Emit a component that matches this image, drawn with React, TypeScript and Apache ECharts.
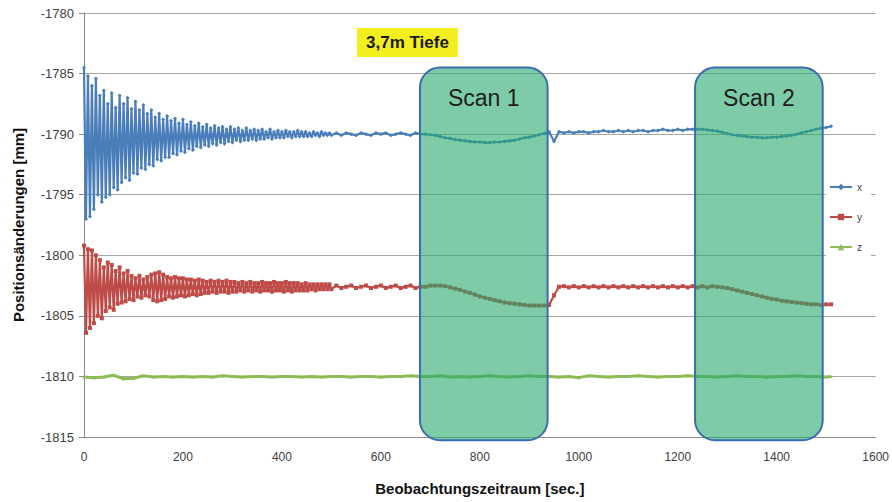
import React, { useEffect, useRef } from "react";
import * as echarts from "echarts";

// sample times (sec.)
const tA = [0,4,8,12,16,20,24,28,32,36,40,44,48,52,56,60,64,68,72,76,80,84,88,92,96,100,104,108,112,116,120,124,128,132,136,140,144,148,152,156,160,164,168,172,176,180,184,188,192,196,200,204,208,212,216,220,224,228,232,236,240,244,248,252,256,260,264,268,272,276,280,284,288,292,296,300,304,308,312,316,320,324,328,332,336,340,344,348,352,356,360,364,368,372,376,380,384,388,392,396,400,404,408,412,416,420,424,428,432,436,440,444,448,452,456,460,464,468,472,476,480,484,488,492,496,500];
const tB = [510,520,530,540,550,560,570,580,590,600,610,620,630,640,650,660,670,680,690,700,710,720,730,740,750,760,770,780,790,800,810,820,830,840,850,860,870,880,890,900,910,920,930,940,950,960,970,980,990,1000,1010,1020,1030,1040,1050,1060,1070,1080,1090,1100,1110,1120,1130,1140,1150,1160,1170,1180,1190,1200,1210,1220,1230,1240,1250,1260,1270,1280,1290,1300,1310,1320,1330,1340,1350,1360,1370,1380,1390,1400,1410,1420,1430,1440,1450,1460,1470,1480,1490,1500,1510];
const tZ = [0,20,40,60,80,100,120,140,160,180,200,220,240,260,280,300,320,340,360,380,400,420,440,460,480,500,520,540,560,580,600,620,640,660,680,700,720,740,760,780,800,820,840,860,880,900,920,940,960,980,1000,1020,1040,1060,1080,1100,1120,1140,1160,1180,1200,1220,1240,1260,1280,1300,1320,1340,1360,1380,1400,1420,1440,1460,1480,1500,1510];

// x series (mm)
const xEarly = [-1784.5,-1797.0,-1785.2,-1796.8,-1786.0,-1796.2,-1785.4,-1795.0,-1786.8,-1795.6,-1786.4,-1795.2,-1787.5,-1795.0,-1786.6,-1794.4,-1787.8,-1794.6,-1786.8,-1794.0,-1787.5,-1793.6,-1787.0,-1793.8,-1787.9,-1793.2,-1787.3,-1793.3,-1788.0,-1792.8,-1787.6,-1792.9,-1788.3,-1792.5,-1788.0,-1792.6,-1788.6,-1792.1,-1788.3,-1792.2,-1788.8,-1791.9,-1788.5,-1791.9,-1788.9,-1791.6,-1788.7,-1791.7,-1789.1,-1791.4,-1788.8,-1791.5,-1789.2,-1791.2,-1789.0,-1791.3,-1789.3,-1791.0,-1789.1,-1791.1,-1789.4,-1790.9,-1789.2,-1791.0,-1789.5,-1790.8,-1789.3,-1790.9,-1789.5,-1790.7,-1789.4,-1790.8,-1789.6,-1790.6,-1789.4,-1790.7,-1789.6,-1790.5,-1789.5,-1790.6,-1789.7,-1790.5,-1789.5,-1790.5,-1789.7,-1790.4,-1789.6,-1790.5,-1789.7,-1790.4,-1789.6,-1790.4,-1789.8,-1790.3,-1789.6,-1790.4,-1789.8,-1790.3,-1789.7,-1790.3,-1789.8,-1790.3,-1789.7,-1790.2,-1789.8,-1790.3,-1789.8,-1790.2,-1789.7,-1790.2,-1789.8,-1790.2,-1789.8,-1790.2,-1789.9,-1790.2,-1789.8,-1790.1,-1789.9,-1790.2,-1789.8,-1790.1,-1789.9,-1790.1,-1789.9,-1790.1];
const xLate = [-1789.9,-1790.1,-1789.9,-1790.0,-1790.1,-1789.9,-1790.0,-1790.1,-1789.9,-1790.0,-1789.9,-1790.1,-1790.0,-1789.9,-1790.0,-1790.1,-1789.9,-1790.0,-1790.0,-1790.05,-1790.1,-1790.2,-1790.3,-1790.35,-1790.45,-1790.5,-1790.55,-1790.6,-1790.65,-1790.65,-1790.7,-1790.7,-1790.65,-1790.65,-1790.6,-1790.55,-1790.5,-1790.4,-1790.3,-1790.25,-1790.15,-1790.05,-1789.95,-1789.8,-1790.6,-1789.8,-1789.9,-1789.8,-1789.9,-1789.8,-1789.8,-1789.9,-1789.8,-1789.8,-1789.7,-1789.8,-1789.8,-1789.7,-1789.8,-1789.7,-1789.8,-1789.7,-1789.7,-1789.8,-1789.7,-1789.7,-1789.6,-1789.7,-1789.7,-1789.6,-1789.7,-1789.6,-1789.6,-1789.6,-1789.6,-1789.65,-1789.7,-1789.75,-1789.85,-1789.95,-1790.05,-1790.1,-1790.15,-1790.2,-1790.25,-1790.25,-1790.3,-1790.3,-1790.25,-1790.25,-1790.2,-1790.15,-1790.1,-1790.0,-1789.9,-1789.8,-1789.7,-1789.6,-1789.5,-1789.45,-1789.35];

// y series (mm)
const yEarly = [-1799.2,-1806.4,-1799.5,-1806.0,-1799.6,-1805.6,-1800.0,-1805.0,-1800.4,-1805.2,-1801.0,-1804.6,-1800.6,-1804.3,-1800.8,-1804.5,-1801.3,-1804.0,-1801.0,-1803.9,-1801.5,-1803.8,-1801.3,-1803.6,-1801.7,-1803.7,-1801.9,-1803.4,-1801.7,-1803.5,-1802.0,-1803.3,-1801.8,-1803.4,-1801.6,-1803.7,-1801.5,-1803.8,-1801.4,-1803.7,-1801.6,-1803.6,-1801.8,-1803.4,-1801.9,-1803.5,-1801.8,-1803.4,-1801.9,-1803.3,-1801.9,-1803.4,-1802.0,-1803.3,-1802.0,-1803.2,-1802.1,-1803.3,-1802.0,-1803.2,-1802.1,-1803.1,-1802.2,-1803.1,-1802.1,-1803.0,-1802.2,-1803.1,-1802.1,-1803.0,-1802.2,-1803.0,-1802.1,-1803.1,-1802.2,-1803.0,-1802.2,-1803.0,-1802.3,-1802.9,-1802.2,-1803.0,-1802.3,-1802.9,-1802.2,-1803.0,-1802.3,-1802.9,-1802.3,-1803.0,-1802.2,-1802.9,-1802.3,-1802.9,-1802.3,-1803.0,-1802.2,-1802.9,-1802.3,-1802.9,-1802.3,-1803.0,-1802.2,-1802.9,-1802.3,-1803.0,-1802.3,-1802.9,-1802.3,-1802.9,-1802.4,-1802.9,-1802.3,-1802.9,-1802.4,-1802.8,-1802.4,-1802.9,-1802.4,-1802.8,-1802.4,-1802.8,-1802.4,-1802.8,-1802.4,-1802.8];
const yLate = [-1802.5,-1802.7,-1802.6,-1802.5,-1802.7,-1802.6,-1802.5,-1802.7,-1802.6,-1802.5,-1802.7,-1802.6,-1802.5,-1802.7,-1802.6,-1802.5,-1802.7,-1802.6,-1802.6,-1802.5,-1802.5,-1802.5,-1802.55,-1802.65,-1802.75,-1802.85,-1803.0,-1803.1,-1803.25,-1803.4,-1803.5,-1803.6,-1803.7,-1803.8,-1803.9,-1803.95,-1804.0,-1804.05,-1804.1,-1804.15,-1804.15,-1804.15,-1804.15,-1804.1,-1803.3,-1802.6,-1802.55,-1802.65,-1802.55,-1802.65,-1802.55,-1802.65,-1802.55,-1802.65,-1802.55,-1802.65,-1802.55,-1802.65,-1802.55,-1802.65,-1802.55,-1802.65,-1802.55,-1802.65,-1802.55,-1802.65,-1802.55,-1802.65,-1802.55,-1802.65,-1802.55,-1802.65,-1802.55,-1802.65,-1802.55,-1802.65,-1802.55,-1802.6,-1802.65,-1802.7,-1802.8,-1802.9,-1803.0,-1803.1,-1803.2,-1803.3,-1803.4,-1803.5,-1803.6,-1803.65,-1803.75,-1803.8,-1803.85,-1803.9,-1803.95,-1804.0,-1804.05,-1804.05,-1804.1,-1804.05,-1804.05];

// z series (mm)
const zVals = [-1810.05,-1810.1,-1810.05,-1809.9,-1810.2,-1810.15,-1809.95,-1810.05,-1810.0,-1810.05,-1810.0,-1810.05,-1810.0,-1810.05,-1809.95,-1810.0,-1810.05,-1810.0,-1810.0,-1810.05,-1810.0,-1810.0,-1810.05,-1810.0,-1810.05,-1810.0,-1810.0,-1810.05,-1810.0,-1810.0,-1810.05,-1810.0,-1810.0,-1809.95,-1810.0,-1810.0,-1809.95,-1810.05,-1810.0,-1810.05,-1810.0,-1809.95,-1810.0,-1810.05,-1810.0,-1809.95,-1810.0,-1810.0,-1810.05,-1810.0,-1810.1,-1809.95,-1810.0,-1810.05,-1810.0,-1810.0,-1809.95,-1810.0,-1810.05,-1810.0,-1810.0,-1809.95,-1810.0,-1810.0,-1810.05,-1810.0,-1809.95,-1810.0,-1810.0,-1810.05,-1810.0,-1810.0,-1809.95,-1810.0,-1810.0,-1810.05,-1810.0];

// scan windows
const scanLabels = ["Scan 1", "Scan 2"];
const scanStart = [679, 1235];
const scanEnd = [937, 1493];
const scanTop = -1784.5;
const scanBottom = -1815.27;
const scanLabelY = -1787.0;

const xTicks = { min: 0, max: 1600, interval: 200 };
const yTicks = { min: -1815, max: -1780, interval: 5 };

const FONT = "'Liberation Sans', Arial, sans-serif";

export default function App() {
  const ref = useRef<HTMLDivElement>(null);
  useEffect(() => {
    document.body.style.margin = "0";
    const chart = echarts.init(ref.current!, null, { renderer: "svg" });
    const xData = tA.map((t, i) => [t, xEarly[i]]).concat(tB.map((t, i) => [t, xLate[i]]));
    const yData = tA.map((t, i) => [t, yEarly[i]]).concat(tB.map((t, i) => [t, yLate[i]]));
    const zData = tZ.map((t, i) => [t, zVals[i]]);
    const scanData = scanLabels.map((_, i) => [scanStart[i], scanEnd[i], scanTop, scanBottom]);

    chart.setOption({
      animation: false,
      textStyle: { fontFamily: FONT },
      title: {
        text: "3,7m Tiefe",
        left: 357,
        top: 28,
        padding: [6, 9, 6, 9],
        backgroundColor: "#f3ee1d",
        textStyle: { fontSize: 17, fontWeight: "bold", color: "#1a1a1a", fontFamily: FONT },
      },
      grid: { left: 84, right: 14, top: 13, bottom: 65 },
      legend: {
        data: ["x", "y", "z"],
        orient: "vertical",
        left: 826,
        top: 175,
        padding: [6, 9, 6, 3],
        itemGap: 18,
        itemWidth: 22,
        itemHeight: 8,
        backgroundColor: "#ffffff",
        textStyle: { fontSize: 10, color: "#444", lineHeight: 12, fontFamily: FONT },
      },
      xAxis: {
        type: "value",
        ...xTicks,
        name: "Beobachtungszeitraum [sec.]",
        nameLocation: "middle",
        nameGap: 44,
        nameTextStyle: { fontSize: 15, fontWeight: "bold", color: "#111", fontFamily: FONT },
        axisLine: { lineStyle: { color: "#8c8c8c" } },
        axisTick: { show: false },
        splitLine: { show: false },
        axisLabel: { fontSize: 12, color: "#404040", margin: 14, formatter: (v: number) => String(v) },
      },
      yAxis: {
        type: "value",
        ...yTicks,
        name: "Positionsänderungen [mm]",
        nameLocation: "middle",
        nameGap: 58,
        nameTextStyle: { fontSize: 15, fontWeight: "bold", color: "#111", fontFamily: FONT },
        axisLine: { show: true, lineStyle: { color: "#8c8c8c" } },
        axisTick: { show: true, length: 5, lineStyle: { color: "#8c8c8c" } },
        splitLine: { lineStyle: { color: "#a6a6a6" } },
        axisLabel: { fontSize: 13, color: "#404040", margin: 10, formatter: (v: number) => String(v) },
      },
      series: [
        {
          name: "x",
          type: "line",
          data: xData,
          symbol: "diamond",
          symbolSize: 4,
          showAllSymbol: true,
          lineStyle: { width: 2.2, color: "#4a7ebb" },
          itemStyle: { color: "#4a7ebb" },
        },
        {
          name: "y",
          type: "line",
          data: yData,
          symbol: "rect",
          symbolSize: 4,
          showAllSymbol: true,
          lineStyle: { width: 2.2, color: "#be4b48" },
          itemStyle: { color: "#be4b48" },
        },
        {
          name: "z",
          type: "line",
          data: zData,
          symbol: "triangle",
          symbolSize: 3,
          showAllSymbol: true,
          lineStyle: { width: 3, color: "#8dbb55" },
          itemStyle: { color: "#8dbb55" },
        },
        {
          name: "scan",
          type: "custom",
          data: scanData,
          clip: false,
          silent: true,
          z: 5,
          renderItem: (params: any, api: any) => {
            const idx = params.dataIndex;
            const tl = api.coord([api.value(0), api.value(2)]);
            const br = api.coord([api.value(1), api.value(3)]);
            const lab = api.coord([(api.value(0) + api.value(1)) / 2, scanLabelY]);
            return {
              type: "group",
              children: [
                {
                  type: "rect",
                  shape: { x: tl[0], y: tl[1], width: br[0] - tl[0], height: br[1] - tl[1], r: 20 },
                  style: { fill: "rgba(38,168,108,0.6)", stroke: "#3c6bb2", lineWidth: 2 },
                },
                {
                  type: "text",
                  x: lab[0],
                  y: lab[1],
                  style: {
                    text: scanLabels[idx],
                    fontSize: 23,
                    fontFamily: FONT,
                    fill: "#1e1e1e",
                    align: "center",
                    verticalAlign: "middle",
                  },
                },
              ],
            };
          },
        },
      ],
    });
    return () => chart.dispose();
  }, []);
  return <div ref={ref} style={{ width: 892, height: 502 }} />;
}
